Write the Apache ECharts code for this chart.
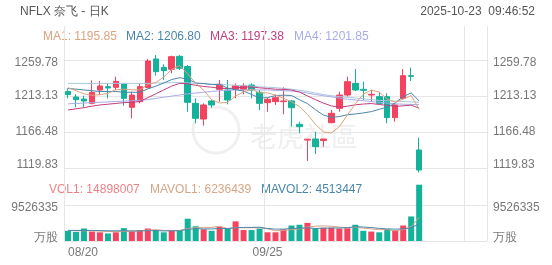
<!DOCTYPE html>
<html><head><meta charset="utf-8">
<script src="https://cdn.jsdelivr.net/npm/echarts@6/dist/echarts.min.js"></script>
<style>html,body{margin:0;padding:0;background:#fff}#c{width:552px;height:265px}</style>
</head><body><div id="c"></div>
<script>
const dates = ['08/20','08/21','08/22','08/25','08/26','08/27','08/28','08/29',
 '09/02','09/03','09/04','09/05','09/08','09/09','09/10','09/11','09/12','09/15','09/16','09/17','09/18','09/19',
 '09/22','09/23','09/24','09/25','09/26','09/29','09/30',
 '10/01','10/02','10/03','10/06','10/07','10/08','10/09','10/10','10/13','10/14','10/15','10/16','10/17','10/20','10/21','10/22'];
const emptySlots = ['e1','e2','e3','e4','e5','e6','e7','e8'];
const opens  = [1218.8,1211.8,1209.2,1203.6,1220.9,1225.2,1224.4,1228.7,1198.5,1205.8,1224.0,1261.1,1250.3,1247.7,1264.5,1251.2,
 1203.6,1183.3,1206.7,1221.8,1220.9,1221.8,1221.8,1227.4,1217.9,1204.5,1205.8,1205.8,1206.7,1176.4,1156.0,1157.4,1155.4,
 1178.6,1197.2,1214.4,1229.5,1221.8,1214.4,1212.3,1212.3,1185.1,1210.1,1239.5,1143.2];
const closes = [1214.9,1208.4,1206.7,1217.9,1226.1,1223.5,1232.1,1210.1,1214.4,1225.2,1258.5,1244.7,1246.0,1264.1,1249.0,1204.9,
 1184.2,1201.5,1201.5,1228.3,1208.0,1226.5,1226.5,1220.9,1203.6,1208.8,1211.0,1206.7,1198.0,1173.4,1157.1,1147.5,1157.4,
 1190.7,1214.4,1231.7,1220.9,1220.5,1215.3,1203.6,1185.1,1201.5,1239.5,1238.6,1117.2];
const lows   = [1210.1,1198.5,1198.5,1202.3,1214.4,1210.1,1220.9,1200.6,1184.2,1203.6,1223.1,1239.5,1233.9,1242.5,1246.8,1192.8,
 1177.7,1174.7,1198.0,1205.8,1202.3,1210.1,1215.3,1210.1,1195.0,1192.8,1201.5,1189.4,1173.4,1164.8,1128.9,1138.0,1147.5,
 1177.7,1192.8,1212.3,1219.6,1207.9,1205.8,1202.3,1177.7,1179.9,1209.2,1232.6,1114.2];
const highs  = [1223.1,1215.3,1213.6,1233.4,1232.6,1229.5,1238.2,1229.5,1218.8,1229.5,1261.1,1266.3,1254.2,1265.4,1266.3,1253.3,
 1210.1,1203.6,1208.0,1233.9,1233.9,1229.5,1229.5,1229.5,1220.9,1211.0,1215.3,1224.4,1208.0,1179.9,1157.1,1166.9,1157.4,
 1195.0,1218.8,1238.2,1248.1,1231.7,1220.9,1217.9,1216.6,1203.6,1248.1,1249.9,1159.1];
const ma1 = [1224,1220,1216,1214,1214.8,1216.5,1221.3,1221.9,1221.2,1221.1,1228.1,1230.6,1237.8,1247.7,1252.5,1241.7,
 1229.6,1220.7,1208.2,1204.1,1204.7,1213.2,1218.2,1222.0,1217.1,1217.3,1214.2,1210.2,1205.6,1199.6,1189.2,1176.5,1166.7,
 1165.2,1173.4,1188.3,1203.0,1215.6,1220.6,1218.4,1209.1,1205.2,1209.0,1213.7,1195.85];
const ma2 = [1223,1222,1221,1220,1219,1219,1219,1218,1218,1217.9,1222.3,1225.9,1229.9,1234.5,1236.8,1234.9,
 1230.1,1229.3,1228.0,1228.3,1223.2,1221.4,1219.5,1215.1,1210.6,1211.0,1213.7,1214.2,1213.8,1208.3,1203.3,1195.4,1188.4,
 1185.4,1186.5,1188.8,1189.8,1191.2,1192.9,1195.9,1198.7,1204.1,1212.3,1217.1,1206.80];
const ma3 = [1195,1196.5,1198,1200,1201.5,1202.5,1203.5,1204.5,1205,1206,1211,1216,1221,1226,1229.5,1229,
 1227,1225.5,1224.5,1223.1,1222.8,1223.7,1224.7,1224.8,1223.7,1222.9,1221.9,1221.7,1220.9,1218.3,1213.2,1208.4,1203.9,
 1200.3,1198.5,1199.9,1201.7,1202.7,1203.4,1202.1,1201.0,1199.7,1200.4,1201.3,1197.38];
const ma4 = [1203,1203.5,1204,1204.5,1205,1205.5,1206,1206.5,1207,1207.5,1208.5,1210,1211.5,1213,1214.5,1216,
 1217,1218,1219,1220,1220.5,1221,1221,1221,1221,1221,1220.5,1220,1219.5,1218.5,1217,1215,1213.5,
 1212,1210.5,1209,1208,1207,1206,1205,1204,1203,1202.5,1202.3,1201.85];
const maLong = [1229.5,1229.5,1229.5,1229.5,1229.5,1229.5,1229.5,1229.5,1229.5,1229.5,1229.5,1230,1230,1230.5,1230.5,1230,
 1229.5,1229,1228.5,1228,1227.5,1227,1226.5,1226,1225,1224.5,1224,1223,1222,1220.5,1219,1217,1215,
 1213.5,1212.5,1211.5,1210.5,1209.5,1208.5,1207.5,1207,1206.5,1206,1205.5,1205];
const volumes = [2.7,2.4,3.3,2.5,2.3,2.0,2.3,3.4,2.7,2.9,3.3,2.9,2.3,2.7,2.7,5.9,
 3.9,3.1,2.7,3.7,3.3,5.2,2.9,2.9,3.3,2.3,2.3,3.1,4.1,4.3,4.8,3.4,3.5,
 3.5,3.3,3.4,4.3,2.7,2.5,2.3,3.1,2.9,4.1,6.5,14.898007];
const mavol1 = [2.8,2.7,2.7,2.7,2.64,2.5,2.47,2.5,2.53,2.64,2.9,3.0,2.8,2.8,2.8,3.3,
 3.5,3.6,3.6,3.9,3.3,3.6,3.5,3.5,3.5,3.2,2.7,2.8,3.0,3.2,3.7,3.9,4.0,
 3.9,3.7,3.4,3.6,3.4,3.2,3.0,3.0,2.7,3.0,3.8,6.236439];
const mavol2 = [2.8,2.8,2.8,2.8,2.75,2.7,2.7,2.7,2.68,2.66,2.7,2.75,2.66,2.68,2.7,3.1,
 3.25,3.2,3.2,3.3,3.3,3.5,3.6,3.6,3.65,3.3,3.15,3.15,3.3,3.35,3.5,3.3,3.4,
 3.45,3.45,3.55,3.75,3.7,3.55,3.35,3.2,3.15,3.2,3.5,4.513447];
const priceTicks = [1119.83,1166.48,1213.13,1259.78];
const volTick = 9526335;
const header = 'NFLX 奈飞 - 日K';
const stamp = '2025-10-23  09:46:52';
const maLabels = ['MA1: 1195.85','MA2: 1206.80','MA3: 1197.38','MA4: 1201.85'];
const volLabels = ['VOL1: 14898007','MAVOL1: 6236439','MAVOL2: 4513447'];
const watermark = '老虎社區';

const UP = '#f4425f', DOWN = '#12b29b';
const MA_COLORS = ['#dca37f','#4a86ab','#c23e7d','#a9abe6','#a9c8df'];
const VOL_COLORS = ['#f08087','#d6a585','#4a86ab'];
const GRID = '#e6e6e6', LBL = '#777';
const FONT = '"Liberation Sans", Arial, sans-serif';

const cats = dates.concat(emptySlots);
const kdata = opens.map((o,i)=>[o, closes[i], lows[i], highs[i]]);
const vdata = volumes.map((v,i)=>({value: v*1e6, itemStyle:{color: closes[i]>=opens[i]?UP:DOWN}}));
const m = a => a.map(v=>v*1e6);

const chart = echarts.init(document.getElementById('c'), null, {renderer:'canvas'});
const G = {left:64, right:65};
const priceLabel = v => {
  const s = v.toFixed(2);
  if (Math.abs(v-priceTicks[3])<0.01) return '{t|'+s+'}';
  if (Math.abs(v-priceTicks[0])<0.01) return '{b|'+s+'}';
  return s;
};
const volLabel = v => v===0 ? '{b|万股}' : (Math.abs(v-volTick)<1 ? '{t|'+volTick+'}' : '');
const rich = {t:{padding:[6,0,0,0],color:LBL,fontSize:12,fontFamily:FONT}, b:{padding:[0,0,6,0],color:LBL,fontSize:12,fontFamily:FONT}};
const hidden = {axisLine:{show:false},axisTick:{show:false},axisLabel:{show:false},splitLine:{show:false}};

const gtext = (x,y,text,color,align) => ({type:'text',x:x,y:y,style:{text:text,fill:color,font:'12px '+FONT,textAlign:align||'left',textVerticalAlign:'middle'},silent:true});
const maLine = (data,color) => ({type:'line',xAxisIndex:1,yAxisIndex:1,data:data,symbol:'none',clip:false,lineStyle:{color:color,width:1},z:3});

chart.setOption({
  animation:false,
  grid:[
    {left:G.left,right:G.right,top:26,bottom:24},
    {left:G.left,right:G.right,top:60,bottom:97},
    {left:G.left,right:G.right,top:205,bottom:24}
  ],
  xAxis:[
    {type:'value',gridIndex:0,min:0,max:423,interval:200,position:'top',axisLine:{show:false},axisTick:{show:false},axisLabel:{show:false},
     splitLine:{show:true,lineStyle:{color:GRID,width:1}}},
    Object.assign({type:'category',gridIndex:1,data:cats,boundaryGap:true},hidden),
    {type:'category',gridIndex:2,data:cats,boundaryGap:true,axisLine:{show:false},axisTick:{show:false},splitLine:{show:false},
     axisLabel:{show:true,interval:(i)=>i===0||i===25,color:LBL,fontSize:12,fontFamily:FONT,margin:6,alignMinLabel:'left'}}
  ],
  yAxis:[
    Object.assign({type:'value',gridIndex:0,min:0,max:1},hidden),
    {type:'value',gridIndex:1,position:'left',min:priceTicks[0],max:priceTicks[3],interval:46.65,axisLine:{show:false},axisTick:{show:false},
     splitLine:{show:true,lineStyle:{color:GRID}},axisLabel:{formatter:priceLabel,rich:rich,color:LBL,fontSize:12,fontFamily:FONT,margin:6}},
    {type:'value',gridIndex:1,position:'right',min:priceTicks[0],max:priceTicks[3],interval:46.65,axisLine:{show:false},axisTick:{show:false},
     splitLine:{show:false},axisLabel:{formatter:priceLabel,rich:rich,color:LBL,fontSize:12,fontFamily:FONT,margin:6}},
    {type:'value',gridIndex:2,position:'left',min:0,max:volTick,interval:volTick,axisLine:{show:false},axisTick:{show:false},
     splitLine:{show:true,lineStyle:{color:GRID}},axisLabel:{formatter:volLabel,rich:rich,color:LBL,fontSize:12,fontFamily:FONT,margin:6}},
    {type:'value',gridIndex:2,position:'right',min:0,max:volTick,interval:volTick,axisLine:{show:false},axisTick:{show:false},
     splitLine:{show:false},axisLabel:{formatter:volLabel,rich:rich,color:LBL,fontSize:12,fontFamily:FONT,margin:6}}
  ],
  graphic:[
    {type:'circle',shape:{cx:216,cy:130,r:23},style:{fill:'none',stroke:'#f0f0f0',lineWidth:3},z:-10,silent:true},
    {type:'text',x:250,y:137,style:{text:watermark,fill:'#efefef',font:'27px "Noto Sans CJK SC", sans-serif',textVerticalAlign:'middle'},z:-10,silent:true},
    gtext(20,12,header,'#555'),
    gtext(535,12,stamp,'#555','right'),
    gtext(43,37,maLabels[0],MA_COLORS[0]),
    gtext(126,37,maLabels[1],MA_COLORS[1]),
    gtext(210,37,maLabels[2],MA_COLORS[2]),
    gtext(294,37,maLabels[3],MA_COLORS[3]),
    gtext(49,190,volLabels[0],VOL_COLORS[0]),
    gtext(150,190,volLabels[1],VOL_COLORS[1]),
    gtext(261,190,volLabels[2],VOL_COLORS[2])
  ],
  series:[
    {type:'candlestick',xAxisIndex:1,yAxisIndex:1,data:kdata,barWidth:6,clip:false,z:2,
     itemStyle:{color:UP,color0:DOWN,borderColor:UP,borderColor0:DOWN,borderWidth:1}},
    maLine(maLong,MA_COLORS[4]),
    maLine(ma4,MA_COLORS[3]),
    maLine(ma3,MA_COLORS[2]),
    maLine(ma2,MA_COLORS[1]),
    maLine(ma1,MA_COLORS[0]),
    {type:'bar',xAxisIndex:2,yAxisIndex:3,data:vdata,barWidth:6,clip:false},
    {type:'line',xAxisIndex:2,yAxisIndex:3,data:m(mavol1),symbol:'none',clip:false,lineStyle:{color:VOL_COLORS[1],width:1}},
    {type:'line',xAxisIndex:2,yAxisIndex:3,data:m(mavol2),symbol:'none',clip:false,lineStyle:{color:VOL_COLORS[2],width:1}}
  ]
});
</script></body></html>
